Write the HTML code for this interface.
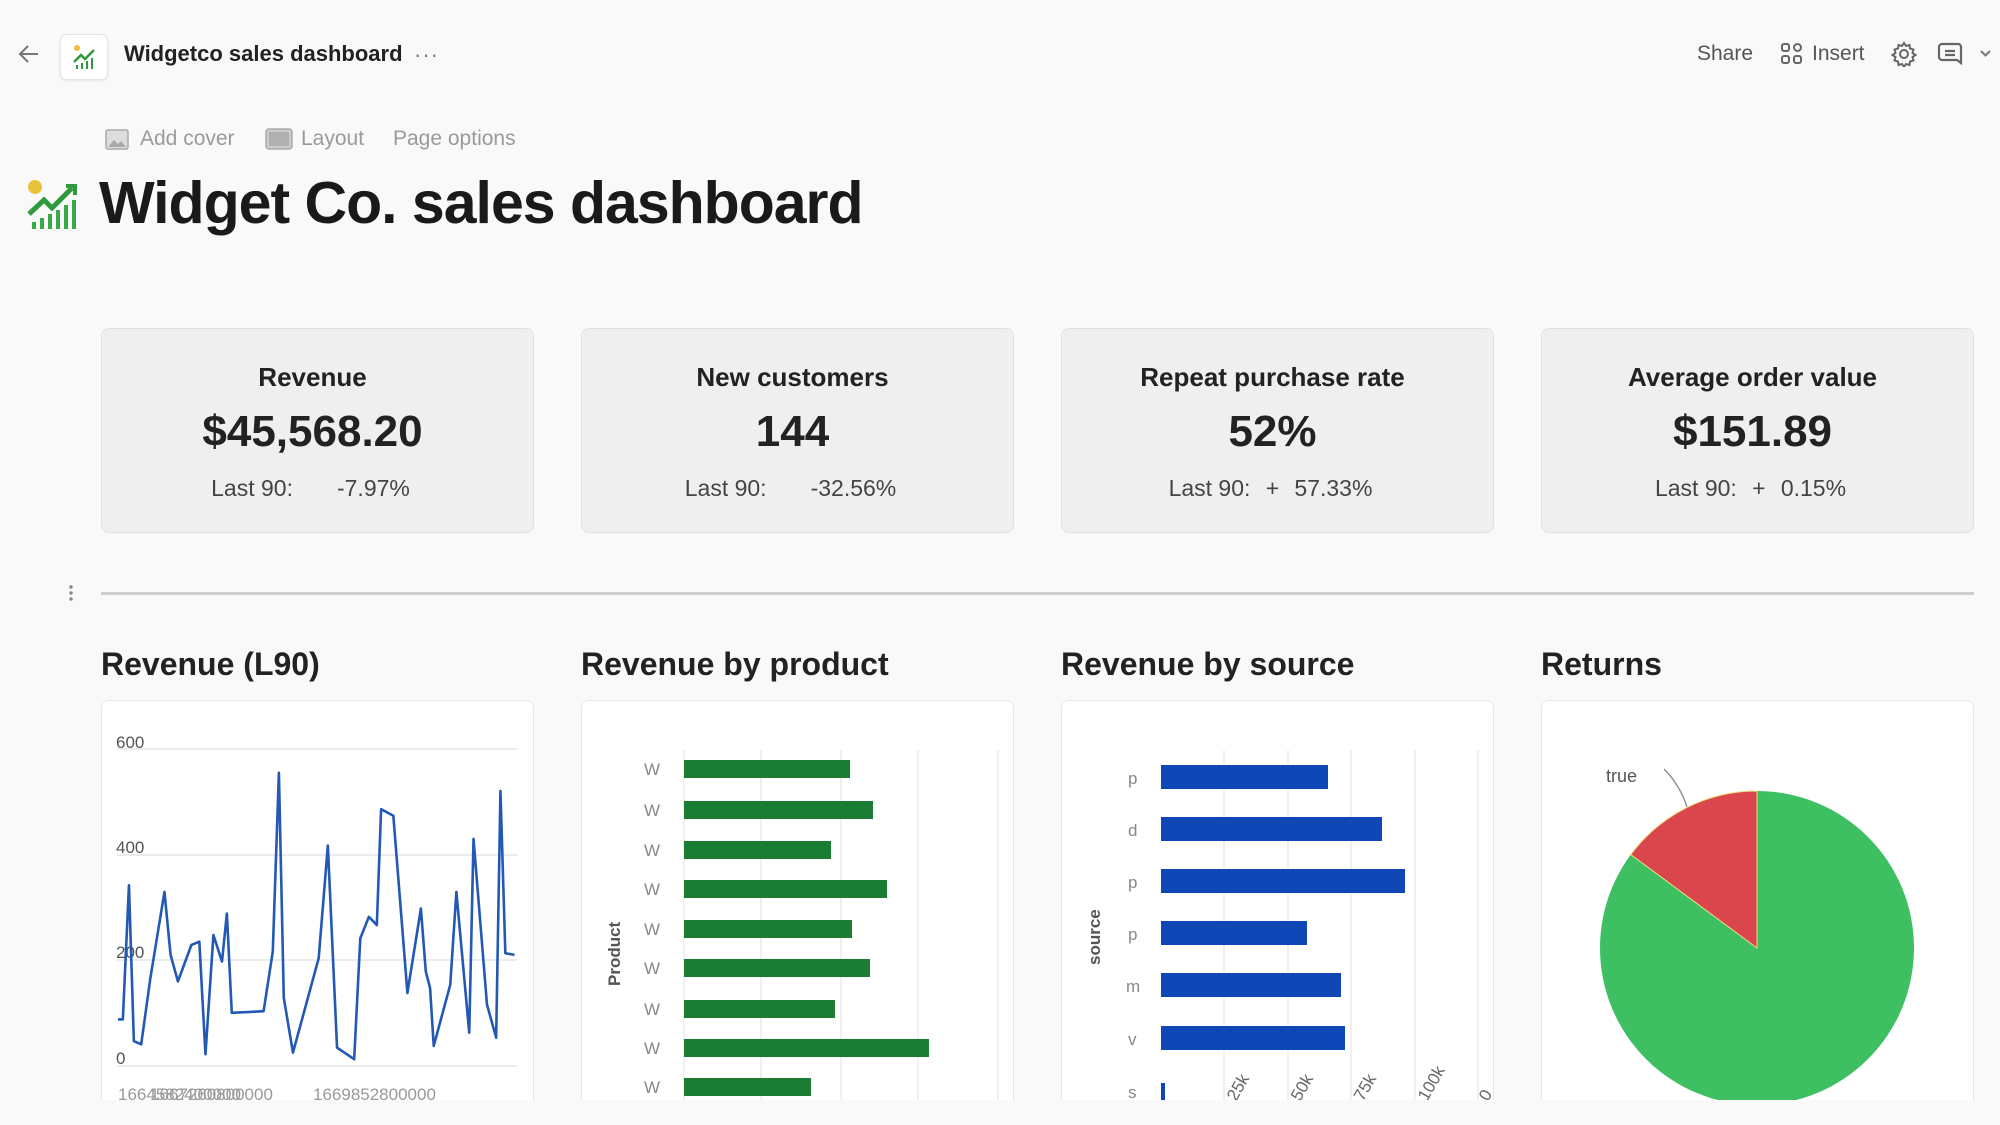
<!DOCTYPE html>
<html><head><meta charset="utf-8"><style>
*{margin:0;padding:0;box-sizing:border-box}
body{width:2000px;height:1125px;background:#f9f9f9;font-family:"Liberation Sans",sans-serif;position:relative;overflow:hidden;color:#1d1d1d}
.a{position:absolute;white-space:nowrap}
.stat{position:absolute;top:328px;width:433px;height:205px;background:#efefef;border:1.5px solid #e0e0e0;border-radius:8px;text-align:center}
.stat .t{position:absolute;left:0;right:10px;top:33px;font-size:26px;font-weight:bold;color:#222}
.stat .v{position:absolute;left:0;right:10px;top:78px;font-size:44px;font-weight:bold;color:#222}
.stat .l{position:absolute;left:0;right:14px;top:146px;font-size:23px;color:#444;display:flex;justify-content:center;gap:15px}
.stat .l .p{width:14px;text-align:center}
.sec{position:absolute;top:646px;font-size:32px;font-weight:bold;color:#222}
.cc{position:absolute;top:700px;width:433px;height:420px;background:#fff;border:1.5px solid #e8e8e8;border-radius:8px;overflow:hidden}
.bot{position:absolute;left:0;top:1100px;width:2000px;height:25px;background:#f9f9f9}
</style></head><body>
<svg class="a" style="left:16px;top:42px" width="26" height="24" viewBox="0 0 26 24"><path d="M22 12H5M12 4L4 12l8 8" fill="none" stroke="#777" stroke-width="2"/></svg>
<div class="a" style="left:60px;top:34px;width:48px;height:46px;background:#fff;border:1px solid #e4e4e4;border-radius:6px;box-shadow:0 1px 2px rgba(0,0,0,.08)"></div>
<svg class="a" style="left:72px;top:44px" width="26" height="26" viewBox="0 0 26 26"><circle cx="5" cy="4" r="3" fill="#e8c23a"/><path d="M2 18L9 11l4 4 9-9" fill="none" stroke="#2e9a3e" stroke-width="2.5"/><g fill="#2e9a3e"><rect x="4" y="21" width="2" height="4"/><rect x="9" y="19" width="2" height="6"/><rect x="14" y="17" width="2" height="8"/><rect x="19" y="14" width="2" height="11"/></g></svg>
<div class="a" style="left:124px;top:41px;font-size:22px;font-weight:600;color:#222">Widgetco sales dashboard</div>
<div class="a" style="left:414px;top:42px;font-size:22px;color:#777;letter-spacing:1px">···</div>
<div class="a" style="left:1697px;top:42px;font-size:21px;color:#555">Share</div>
<svg class="a" style="left:1780px;top:42px" width="24" height="24" viewBox="0 0 24 24" fill="none" stroke="#666" stroke-width="2"><rect x="2" y="2" width="7" height="7" rx="2"/><circle cx="17.5" cy="5.5" r="3.5"/><rect x="2" y="14" width="7" height="7" rx="2"/><rect x="14" y="14" width="7" height="7" rx="2"/></svg>
<div class="a" style="left:1812px;top:42px;font-size:21px;color:#555">Insert</div>
<svg class="a" style="left:1891px;top:41px" width="26" height="26" viewBox="0 0 26 26" fill="none" stroke="#666" stroke-width="2"><circle cx="13" cy="13" r="4"/><path d="M13 2l2 3 3.5-1 .5 3.5 3.5 1-1 3.5 3 2-3 2 1 3.5-3.5 1-.5 3.5-3.5-1-2 3-2-3-3.5 1-.5-3.5-3.5-1 1-3.5-3-2 3-2-1-3.5 3.5-1 .5-3.5 3.5 1z"/></svg>
<svg class="a" style="left:1937px;top:41px" width="27" height="26" viewBox="0 0 27 26" fill="none" stroke="#666" stroke-width="2.2"><path d="M5 3h16a3 3 0 0 1 3 3v16l-4-3H5a3 3 0 0 1-3-3V6a3 3 0 0 1 3-3z"/><path d="M8 10h10M8 14h10"/></svg>
<svg class="a" style="left:1979px;top:49px" width="13" height="9" viewBox="0 0 13 9"><path d="M2 2l4.5 4.5L11 2" fill="none" stroke="#777" stroke-width="2"/></svg>

<svg class="a" style="left:105px;top:129px" width="24" height="21" viewBox="0 0 24 21"><rect x="1" y="1" width="22" height="19" rx="2" fill="#ddd" stroke="#aaa" stroke-width="1.5"/><path d="M3 18l6-7 4 4 3-3 5 6z" fill="#aaa"/></svg>
<div class="a" style="left:140px;top:127px;font-size:21px;color:#9a9a9a">Add cover</div>
<svg class="a" style="left:265px;top:128px" width="28" height="22" viewBox="0 0 28 22"><rect x="1" y="1" width="26" height="20" rx="3" fill="#ccc" stroke="#aaa" stroke-width="1.5"/><rect x="4" y="4" width="20" height="14" fill="#b0b0b0"/></svg>
<div class="a" style="left:301px;top:127px;font-size:21px;color:#9a9a9a">Layout</div>
<div class="a" style="left:393px;top:127px;font-size:21px;color:#9a9a9a">Page options</div>

<svg class="a" style="left:26px;top:178px" width="54" height="52" viewBox="0 0 54 52"><circle cx="9" cy="9" r="7" fill="#e8c23a"/><path d="M3 36L18 22l8 8 20-20" fill="none" stroke="#2e9a3e" stroke-width="5"/><path d="M40 8h9v9" fill="none" stroke="#2e9a3e" stroke-width="4"/><g fill="#3aa94a"><rect x="6" y="44" width="4" height="7"/><rect x="14" y="40" width="4" height="11"/><rect x="22" y="36" width="4" height="15"/><rect x="30" y="32" width="4" height="19"/><rect x="38" y="27" width="4" height="24"/><rect x="46" y="22" width="4" height="29"/></g></svg>
<div class="a" style="left:99px;top:169px;font-size:59px;font-weight:bold;letter-spacing:-1px;color:#1a1a1a">Widget Co. sales dashboard</div>

<div class="stat" style="left:101px"><div class="t">Revenue</div><div class="v">$45,568.20</div><div class="l"><span>Last 90:</span><span class="p"></span><span>-7.97%</span></div></div>
<div class="stat" style="left:581px"><div class="t">New customers</div><div class="v">144</div><div class="l"><span>Last 90:</span><span class="p"></span><span>-32.56%</span></div></div>
<div class="stat" style="left:1061px"><div class="t">Repeat purchase rate</div><div class="v">52%</div><div class="l"><span>Last 90:</span><span class="p">+</span><span>57.33%</span></div></div>
<div class="stat" style="left:1541px"><div class="t">Average order value</div><div class="v">$151.89</div><div class="l"><span>Last 90:</span><span class="p">+</span><span>0.15%</span></div></div>

<div class="a" style="left:69px;top:584px;width:4px;height:18px;background:radial-gradient(circle,#888 1.5px,transparent 2px) 0 0/4px 6px"></div>
<div class="a" style="left:101px;top:592px;width:1873px;height:3px;background:#cfcfcf"></div>

<div class="sec" style="left:101px">Revenue (L90)</div>
<div class="sec" style="left:581px">Revenue by product</div>
<div class="sec" style="left:1061px">Revenue by source</div>
<div class="sec" style="left:1541px">Returns</div>

<div class="cc" style="left:101px"></div>
<div class="cc" style="left:581px"></div>
<div class="cc" style="left:1061px"></div>
<div class="cc" style="left:1541px"><svg width="433" height="430" style="position:absolute;left:-1px;top:-1px"><g transform="translate(-1541,-700)">
<circle cx="1757" cy="948" r="157" fill="#3dbf62"/>
<path d="M1757 948L1757 791A157 157 0 0 0 1630.8 854.6Z" fill="#d9464b" stroke="#f0e080" stroke-width="1"/>
<path d="M1664 769Q1680 785 1687 807" fill="none" stroke="#888" stroke-width="1.3"/>
<text x="1606" y="782" font-size="18" fill="#555" font-family="Liberation Sans">true</text></g></svg></div>

<svg class="a" style="left:0;top:0" width="2000" height="1100" viewBox="0 0 2000 1100" font-family="Liberation Sans">
<g stroke="#e6e6e6" stroke-width="1.5"><line x1="117" y1="749" x2="517" y2="749"/><line x1="117" y1="855" x2="517" y2="855"/><line x1="117" y1="960" x2="517" y2="960"/><line x1="117" y1="1066" x2="517" y2="1066"/></g>
<g font-size="17" fill="#555"><text x="116" y="748">600</text><text x="116" y="853">400</text><text x="116" y="958">200</text><text x="116" y="1064">0</text></g>
<g font-size="17" fill="#999"><text x="118" y="1100">1664582400000</text><text x="150" y="1100">1667260800000</text><text x="313" y="1100">1669852800000</text></g>
<g transform="translate(80,680) scale(0.612,0.3312)"><polyline fill="none" stroke="#2358b5" stroke-width="2.6" vector-effect="non-scaling-stroke" stroke-linejoin="round" points="62,1025 70,1025 80,620 88,1090 100,1100 115,900 138,640 148,830 160,910 182,800 195,790 205,1130 218,770 232,850 240,705 248,1005 300,1000 315,820 325,280 333,960 348,1125 390,840 405,500 420,1110 448,1145 458,780 472,715 485,740 492,390 512,410 535,945 557,690 565,880 572,930 578,1105 605,920 615,640 636,1065 643,480 665,980 680,1080 687,335 695,825 710,830"/></g>
<g stroke="#ececec" stroke-width="1.5"><line x1="684" y1="750" x2="684" y2="1100"/><line x1="761" y1="750" x2="761" y2="1100"/><line x1="841" y1="750" x2="841" y2="1100"/><line x1="918" y1="750" x2="918" y2="1100"/><line x1="998" y1="750" x2="998" y2="1100"/></g>
<g fill="#1b7c33"><rect x="684" y="760" width="166" height="18"/><rect x="684" y="801" width="189" height="18"/><rect x="684" y="841" width="147" height="18"/><rect x="684" y="880" width="203" height="18"/><rect x="684" y="920" width="168" height="18"/><rect x="684" y="959" width="186" height="18"/><rect x="684" y="1000" width="151" height="18"/><rect x="684" y="1039" width="245" height="18"/><rect x="684" y="1078" width="127" height="18"/></g>
<g font-size="17" fill="#888"><text x="644" y="775">W</text><text x="644" y="816">W</text><text x="644" y="856">W</text><text x="644" y="895">W</text><text x="644" y="935">W</text><text x="644" y="974">W</text><text x="644" y="1015">W</text><text x="644" y="1054">W</text><text x="644" y="1093">W</text></g>
<text transform="translate(620,986) rotate(-90)" font-size="17" font-weight="bold" fill="#555">Product</text>
<g stroke="#ececec" stroke-width="1.5"><line x1="1224" y1="750" x2="1224" y2="1100"/><line x1="1288" y1="750" x2="1288" y2="1100"/><line x1="1351" y1="750" x2="1351" y2="1100"/><line x1="1415" y1="750" x2="1415" y2="1100"/><line x1="1478" y1="750" x2="1478" y2="1100"/></g>
<g fill="#1047b6"><rect x="1161" y="765" width="167" height="24"/><rect x="1161" y="817" width="221" height="24"/><rect x="1161" y="869" width="244" height="24"/><rect x="1161" y="921" width="146" height="24"/><rect x="1161" y="973" width="180" height="24"/><rect x="1161" y="1026" width="184" height="24"/><rect x="1161" y="1083" width="4" height="20"/></g>
<g font-size="17" fill="#888"><text x="1128" y="784">p</text><text x="1128" y="836">d</text><text x="1128" y="888">p</text><text x="1128" y="940">p</text><text x="1126" y="992">m</text><text x="1128" y="1045">v</text><text x="1128" y="1098">s</text></g>
<text transform="translate(1100,965) rotate(-90)" font-size="17" font-weight="bold" fill="#555">source</text>
<g font-size="17" fill="#666"><text transform="translate(1236,1102) rotate(-60)">25k</text><text transform="translate(1300,1102) rotate(-60)">50k</text><text transform="translate(1363,1102) rotate(-60)">75k</text><text transform="translate(1427,1102) rotate(-60)">100k</text><text transform="translate(1488,1102) rotate(-60)">0</text></g>
</svg>
<div class="bot"></div>
</body></html>
